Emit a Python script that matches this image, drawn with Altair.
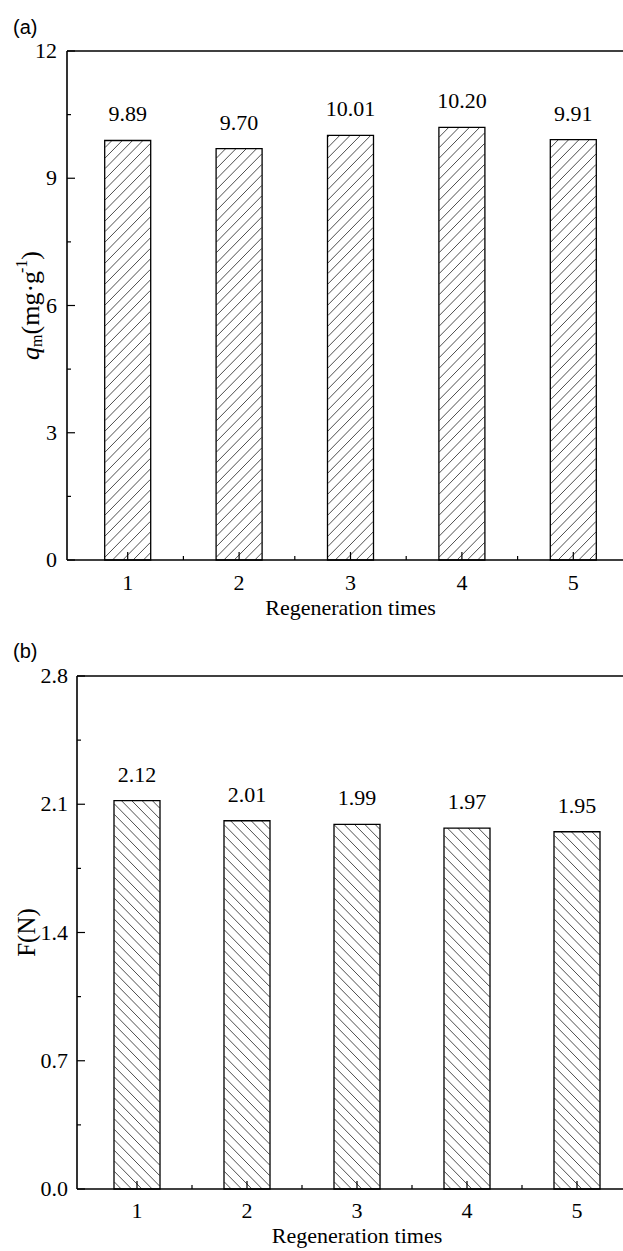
import math
import altair as alt
import pandas as pd

# ---------------- data ----------------
runs = [1, 2, 3, 4, 5]
qm_values = [9.89, 9.70, 10.01, 10.20, 9.91]
force_values = [2.12, 2.01, 1.99, 1.97, 1.95]
qm_major = [0, 3, 6, 9, 12]
qm_minor = [1.5, 4.5, 7.5, 10.5]
force_major = [0.0, 0.7, 1.4, 2.1, 2.8]
force_minor = [0.35, 1.05, 1.75, 2.45]
x_major = [1, 2, 3, 4, 5]
x_minor = [1.5, 2.5, 3.5, 4.5]
x_title = "Regeneration times"

# ---------------- style / layout ----------------
CW, CH = 623, 1251
SERIF = "Liberation Serif"
SANS = "Liberation Sans"
BAR_W = 46
HATCH = 10.5
MAJOR, MINOR = 8, 4
LABEL_SIZE = 22
TITLE_SIZE = 26

one = pd.DataFrame({"o": [0]})


def text_at(txt, x, y, size, font=SERIF, angle=0, align="center",
            baseline="middle", style="normal"):
    return alt.Chart(one).mark_text(
        text=txt, font=font, fontSize=size, angle=angle, align=align,
        baseline=baseline, fontStyle=style, color="black"
    ).encode(x=alt.value(x), y=alt.value(y))


def panel(values, ymax, major, minor, left, xright, top, bottom, fmt,
          mirror, label_pad, xlabel_pad, tag, tag_y, title_y):
    sx = (xright - left) / 5.0
    sy = (bottom - top) / ymax
    hw = BAR_W / 2.0 / sx
    xs = alt.Scale(domain=[0.5, 5.5], range=[left, xright], nice=False, zero=False)
    ys = alt.Scale(domain=[0, ymax], range=[bottom, top], nice=False, zero=False)
    df = pd.DataFrame({"t": runs, "v": values})
    base = alt.Chart(df)
    xenc = alt.X("t:Q", scale=xs, axis=None)
    yenc = alt.Y("v:Q", scale=ys, axis=None)

    bars_fill = base.mark_bar(size=BAR_W, color="white", strokeWidth=0).encode(x=xenc, y=yenc)

    # hatch lines computed from the bar values
    if mirror:
        xa = f"datum.t + {hw} - datum.ps / {sx}"
        xb = f"datum.t + {hw} - datum.pe / {sx}"
    else:
        xa = f"datum.t - {hw} + datum.ps / {sx}"
        xb = f"datum.t - {hw} + datum.pe / {sx}"
    kmin = -int(math.ceil(BAR_W / HATCH)) - 1
    hatch = (
        base.transform_calculate(h=f"datum.v * {sy}")
        .transform_calculate(ks=f"sequence({kmin}, ceil(datum.h / {HATCH}) + 1)")
        .transform_flatten(["ks"], as_=["k"])
        .transform_calculate(c=f"datum.k * {HATCH} + 3")
        .transform_calculate(ps="max(0, -datum.c)")
        .transform_calculate(pe=f"min({BAR_W}, datum.h - datum.c)")
        .transform_filter("datum.pe > datum.ps + 0.5")
        .transform_calculate(xa=xa)
        .transform_calculate(xb=xb)
        .transform_calculate(ya=f"(datum.ps + datum.c) / {sy}")
        .transform_calculate(yb=f"(datum.pe + datum.c) / {sy}")
        .mark_rule(color="#3a3a3a", strokeWidth=0.9)
        .encode(x=alt.X("xa:Q", scale=xs, axis=None),
                y=alt.Y("ya:Q", scale=ys, axis=None),
                x2="xb:Q", y2="yb:Q")
    )

    outline = base.mark_bar(size=BAR_W, fillOpacity=0, stroke="black",
                            strokeWidth=1.3).encode(x=xenc, y=yenc)

    labels = base.mark_text(dy=-26, font=SERIF, fontSize=LABEL_SIZE, color="black",
                            baseline="middle").encode(
        x=xenc, y=yenc, text=alt.Text("v:Q", format=".2f"))

    ymaj = alt.Chart(pd.DataFrame({"y": major})).mark_rule(color="black", strokeWidth=1.2).encode(
        y=alt.Y("y:Q", scale=ys, axis=None), x=alt.value(left), x2=alt.value(left + MAJOR))
    ymin = alt.Chart(pd.DataFrame({"y": minor})).mark_rule(color="black", strokeWidth=1.2).encode(
        y=alt.Y("y:Q", scale=ys, axis=None), x=alt.value(left), x2=alt.value(left + MINOR))
    xmaj = alt.Chart(pd.DataFrame({"x": x_major})).mark_rule(color="black", strokeWidth=1.2).encode(
        x=alt.X("x:Q", scale=xs, axis=None), y=alt.value(bottom), y2=alt.value(bottom - MAJOR))
    xmin = alt.Chart(pd.DataFrame({"x": x_minor})).mark_rule(color="black", strokeWidth=1.2).encode(
        x=alt.X("x:Q", scale=xs, axis=None), y=alt.value(bottom), y2=alt.value(bottom - MINOR))

    # frame lines: top, left, bottom (right side is cropped in the original)
    topline = alt.Chart(one).mark_rule(color="black", strokeWidth=1.6).encode(
        x=alt.value(left), x2=alt.value(CW), y=alt.value(top))
    bottomline = alt.Chart(one).mark_rule(color="black", strokeWidth=1.6).encode(
        x=alt.value(left), x2=alt.value(CW), y=alt.value(bottom))
    leftline = alt.Chart(one).mark_rule(color="black", strokeWidth=1.6).encode(
        x=alt.value(left), y=alt.value(top), y2=alt.value(bottom))

    ylab = alt.Chart(pd.DataFrame({"y": major})).mark_text(
        font=SERIF, fontSize=LABEL_SIZE, color="black", align="right", baseline="middle"
    ).encode(y=alt.Y("y:Q", scale=ys, axis=None), x=alt.value(left - label_pad),
             text=alt.Text("y:Q", format=fmt))
    xlab = alt.Chart(pd.DataFrame({"x": x_major})).mark_text(
        font=SERIF, fontSize=LABEL_SIZE, color="black", align="center", baseline="top"
    ).encode(x=alt.X("x:Q", scale=xs, axis=None), y=alt.value(bottom + xlabel_pad),
             text=alt.Text("x:Q", format="d"))

    xt = alt.Chart(one).mark_text(text=x_title, font=SERIF, fontSize=LABEL_SIZE,
                                  color="black", baseline="middle").encode(
        x=alt.XDatum(3, scale=xs, axis=None), y=alt.value(title_y))
    tg = text_at(tag, 13, tag_y, 20, font=SANS, align="left")

    return [bars_fill, hatch, outline, labels, ymaj, ymin, xmaj, xmin,
            topline, bottomline, leftline, ylab, xlab, xt, tg]


layers_a = panel(qm_values, 12, qm_major, qm_minor, 67, 67 + 5 * 113.4, 51, 560, "d",
                 False, 10, 13, "(a)", 28, 608)
layers_b = panel(force_values, 2.8, force_major, force_minor, 77, 77 + 5 * 112, 676, 1189,
                 ".1f", True, 9, 12, "(b)", 652, 1236)

# y title of panel (a): q_m(mg·g^-1) built from pieces, rotated
pieces = [("q", TITLE_SIZE, "italic", 0, 0.5),
          ("m", 16, "normal", 6, 0.778),
          ("(mg·g", TITLE_SIZE, "normal", 0, 2.361),
          ("-1", 16, "normal", -9, 0.833),
          (")", TITLE_SIZE, "normal", 0, 0.333)]
total = sum(s * w for _, s, _, _, w in pieces)
cy = (51 + 560) / 2 + total / 2
title_a = []
for txt, size, style, dx, w in pieces:
    title_a.append(text_at(txt, 31 + dx, cy, size, angle=270, align="left", style=style))
    cy -= size * w

title_b = [text_at("F(N)", 27, (676 + 1189) / 2, 25, angle=270)]

panel_a = alt.layer(*(layers_a + title_a))
panel_b = alt.layer(*(layers_b + title_b))

chart = (
    alt.layer(panel_a, panel_b)
    .resolve_scale(x="independent", y="independent")
    .properties(width=CW, height=CH, padding=0, autosize="none", background="white")
    .configure_view(strokeWidth=0)
)

chart.save("out.html", embed_options={"renderer": "svg", "actions": False})
